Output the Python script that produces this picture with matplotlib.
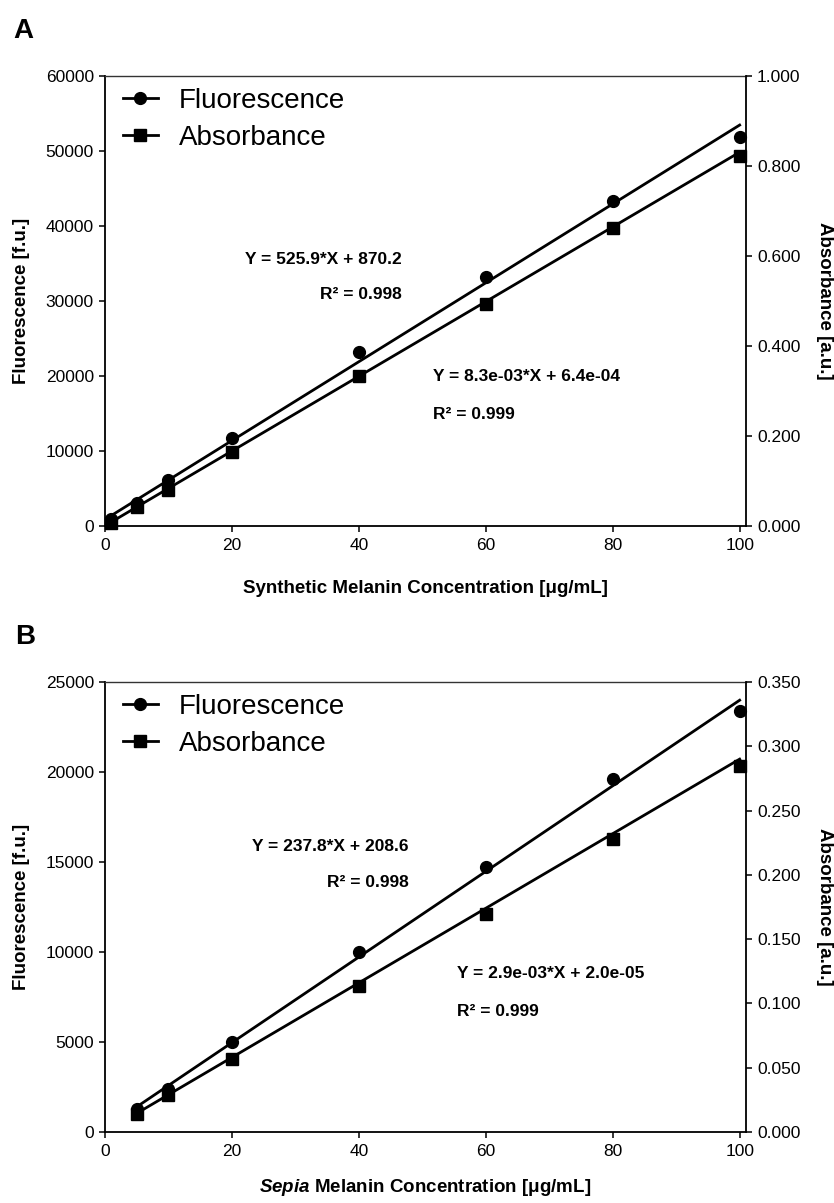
import numpy as np
import matplotlib as mpl
import matplotlib.pyplot as plt
from matplotlib.lines import Line2D
from matplotlib.ticker import FormatStrFormatter

# -----------------------------------------------------------------------------
# Data
# -----------------------------------------------------------------------------
# A: synthetic melanin
conc_a = [1, 5, 10, 20, 40, 60, 80, 100]
fluor_a = [900, 3000, 6100, 11700, 23200, 33200, 43300, 51900]
absorb_a = [0.007, 0.043, 0.080, 0.165, 0.334, 0.493, 0.663, 0.822]
fit_fluor_a = (525.9, 870.2)
fit_abs_a = (8.3e-03, 6.4e-04)
r2_a = (0.998, 0.999)

# B: sepia melanin
conc_b = [5, 10, 20, 40, 60, 80, 100]
fluor_b = [1300, 2400, 5000, 10000, 14750, 19600, 23400]
absorb_b = [0.0137, 0.0284, 0.0569, 0.1137, 0.1692, 0.2282, 0.2845]
fit_fluor_b = (237.8, 208.6)
fit_abs_b = (2.9e-03, 2.0e-05)
r2_b = (0.998, 0.999)

# -----------------------------------------------------------------------------
# Style
# -----------------------------------------------------------------------------
mpl.rcParams.update({
    "font.family": "sans-serif",
    "font.sans-serif": ["Liberation Sans", "DejaVu Sans"],
    "font.size": 12.5,
    "mathtext.fontset": "custom",
    "mathtext.rm": "Liberation Sans:bold",
    "mathtext.it": "Liberation Sans:italic:bold",
    "mathtext.bf": "Liberation Sans:bold",
    "axes.linewidth": 1.3,
    "xtick.major.size": 4,
    "ytick.major.size": 4,
    "xtick.major.width": 1.1,
    "ytick.major.width": 1.1,
    "xtick.major.pad": 5,
    "ytick.major.pad": 4,
    "xtick.labelsize": 12.5,
    "ytick.labelsize": 12.5,
})

W, H = 834, 1203


def eq_text(fit, fmt):
    return f"Y = {fit[0]:{fmt}}*X + {fit[1]:{fmt}}"


def make_panel(rect, conc, fluor, absorb, fit_f, fit_a, r2, fmax, fstep, amax, astep,
               xlabel, xlabel_y, eq_pos):
    ax = fig.add_axes(rect)
    ax2 = ax.twinx()

    ax.spines["right"].set_visible(False)
    ax.spines["top"].set_linewidth(1.0)
    ax.spines["top"].set_color("#333333")
    for s in ["left", "bottom", "top"]:
        ax2.spines[s].set_visible(False)

    x = np.array(conc, dtype=float)
    xf = np.array([x[0], x[-1]])

    # fluorescence on the left axis
    ax.plot(xf, fit_f[0] * xf + fit_f[1], color="black", lw=2.0)
    ax.plot(x, fluor, "o", color="black", ms=8.5, clip_on=False, zorder=4)
    # absorbance on the right axis
    ax2.plot(xf, fit_a[0] * xf + fit_a[1], color="black", lw=2.0)
    ax2.plot(x, absorb, "s", color="black", ms=9, clip_on=False, zorder=4)

    ax.set_xlim(0, 101)
    ax.set_xticks(np.arange(0, 101, 20))
    ax.set_ylim(0, fmax)
    ax.set_yticks(np.arange(0, fmax + 1, fstep))
    ax2.set_ylim(0, amax)
    ax2.set_yticks(np.arange(0, amax + 1e-9, astep))
    ax2.yaxis.set_major_formatter(FormatStrFormatter("%.3f"))

    ax.set_ylabel("Fluorescence [f.u.]", fontsize=13.5, fontweight="bold", va="center")
    ax.yaxis.set_label_coords(-0.131, 0.5)
    ax2.set_ylabel("Absorbance [a.u.]", fontsize=13.5, fontweight="bold",
                   rotation=270, va="center")
    ax2.yaxis.set_label_coords(1.123, 0.5)
    ax.set_xlabel(xlabel, fontsize=13.5, fontweight="bold", va="center")
    ax.xaxis.set_label_coords(0.5, xlabel_y)

    (e1x, e1y, r1y), (e2x, e2y, r2y) = eq_pos
    kw = dict(fontsize=12.5, fontweight="bold", va="center")
    ax.text(e1x, e1y, eq_text(fit_f, ".1f"), ha="right", **kw)
    ax.text(e1x, r1y, f"R² = {r2[0]:.3f}", ha="right", **kw)
    ax.text(e2x, e2y, eq_text(fit_a, ".1e"), ha="left", **kw)
    ax.text(e2x, r2y, f"R² = {r2[1]:.3f}", ha="left", **kw)

    handles = [
        Line2D([], [], color="black", lw=2.0, marker="o", ms=8.5),
        Line2D([], [], color="black", lw=2.0, marker="s", ms=9),
    ]
    ax2.legend(handles, ["Fluorescence", "Absorbance"], loc="upper left",
               bbox_to_anchor=(0.028, 0.974), frameon=False, fontsize=20,
               borderpad=0, borderaxespad=0, handlelength=1.25,
               handletextpad=0.75, labelspacing=0.40)
    return ax, ax2


fig = plt.figure(figsize=(W / 100, H / 100), dpi=100)

left = 105 / W
width = 641 / W
height = 450 / H

make_panel([left, 1 - 526 / H, width, height], conc_a, fluor_a, absorb_a,
           fit_fluor_a, fit_abs_a, r2_a, 60000, 10000, 1.0, 0.2,
           "Synthetic Melanin Concentration [μg/mL]", -0.138,
           ((46.7, 35600, 30800), (51.65, 19900, 14800)))

make_panel([left, 1 - 1132 / H, width, height], conc_b, fluor_b, absorb_b,
           fit_fluor_b, fit_abs_b, r2_b, 25000, 5000, 0.35, 0.05,
           r"$\mathit{Sepia}$ Melanin Concentration [μg/mL]", -0.124,
           ((47.9, 15880, 13850), (55.4, 8815, 6713)))

fig.text(23 / W, 1 - 31 / H, "A", fontsize=20, fontweight="bold", ha="center", va="center")
fig.text(25 / W, 1 - 637 / H, "B", fontsize=20, fontweight="bold", ha="center", va="center")

fig.savefig("out.png", dpi=100)
